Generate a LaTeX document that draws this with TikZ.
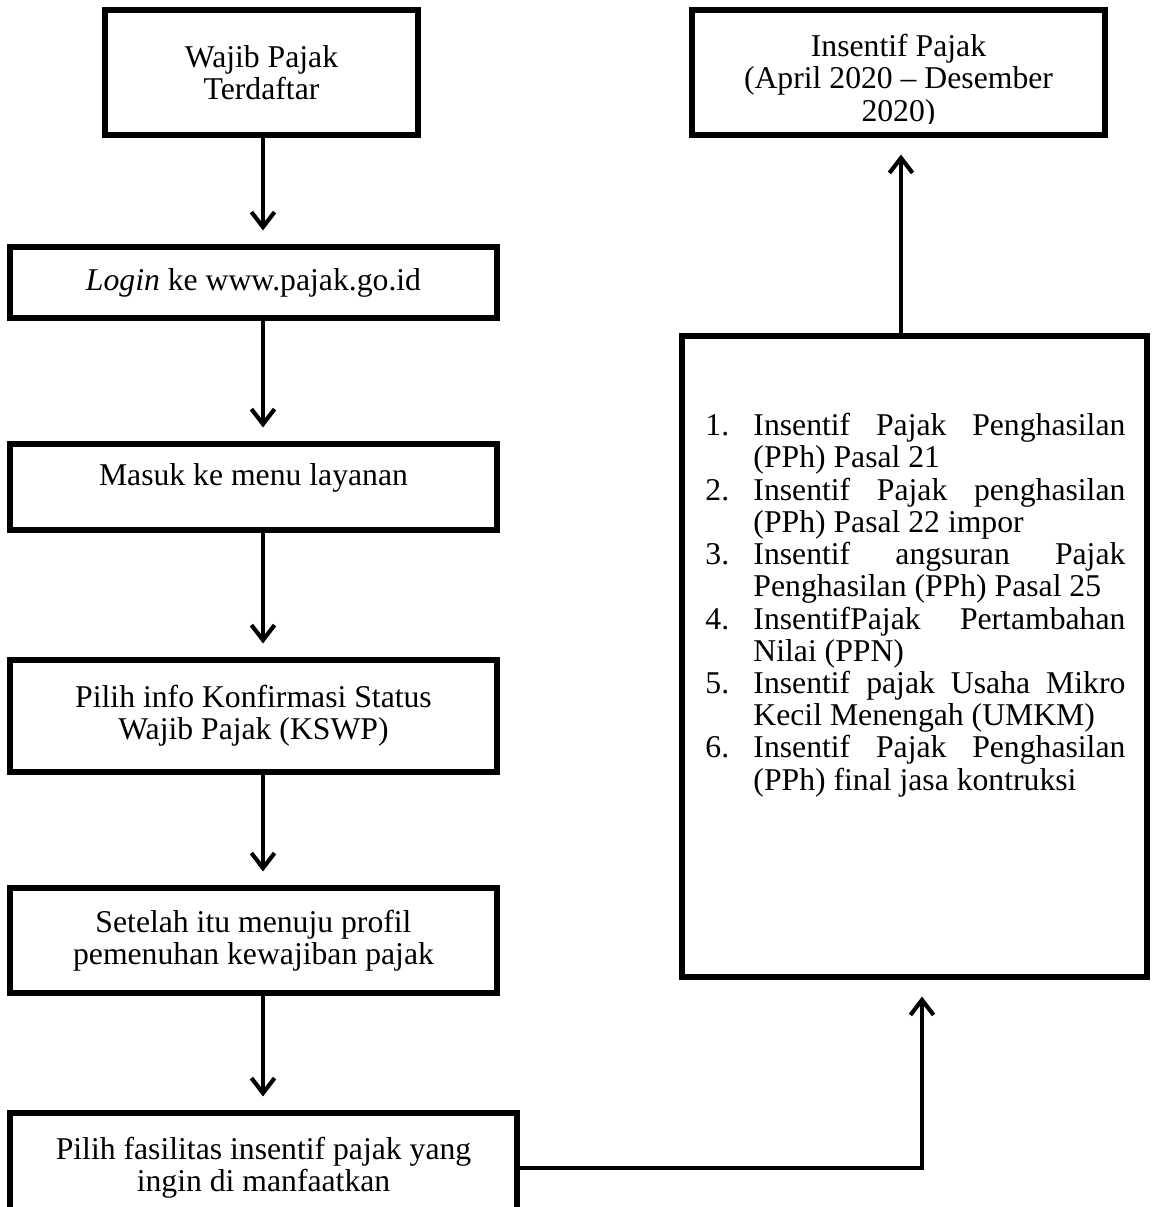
\documentclass[tikz,border=0pt]{standalone}
\usepackage{fontspec}
\setmainfont{Liberation Serif}
\usetikzlibrary{arrows.meta,calc,positioning}
\newlength{\px}
\setlength{\px}{0.4332pt}
\tikzset{
  kotak/.style={draw, line width=2.2pt, inner sep=0pt, align=center,
    font=\fontsize{13.73}{13.95}\selectfont},
  tulisan/.style={inner sep=0pt, font=\fontsize{13.73}{13.95}\selectfont},
  panah/.style={line width=1.8pt, -{Straight Barb[length=6.5pt,width=10pt]}}
}
\begin{document}
\begin{tikzpicture}[x=\px, y=-\px]
  \clip (0,0) rectangle (1152,1207);
  \fill[white] (0,0) rectangle (1152,1207);

  % Alur kiri
  \node[kotak, minimum width=313\px, minimum height=125\px] (terdaftar) at (261.5,72.5) {Wajib Pajak\\Terdaftar};
  \node[kotak, minimum width=487\px, minimum height=71\px] (login) at (253.5,282.5) {\textit{Login} ke www.pajak.go.id};
  \node[kotak, minimum width=487\px, minimum height=86\px, text depth=25\px] (layanan) at (253.5,487) {Masuk ke menu layanan};
  \node[kotak, minimum width=487\px, minimum height=112\px] (kswp) at (253.5,716) {Pilih info Konfirmasi Status\\Wajib Pajak (KSWP)};
  \node[kotak, minimum width=487\px, minimum height=105\px] (profil) at (253.5,940.5) {Setelah itu menuju profil\\pemenuhan kewajiban pajak};
  \node[kotak, minimum width=507\px, minimum height=110\px] (fasilitas) at (263.5,1168) {Pilih fasilitas insentif pajak yang\\ingin di manfaatkan};

  % Panah ke bawah
  \coordinate (sumbu) at (263,0);
  \foreach \a/\b in {terdaftar/login, login/layanan, layanan/kswp, kswp/profil, profil/fasilitas} {
    \draw[panah] (\a.south -| sumbu) -- ($(\b.north -| sumbu)+(0,-14)$);
  }

  % Kolom kanan
  \node[kotak, minimum width=413\px, minimum height=125\px] (insentif) at (898.5,72.5) {};
  \begin{scope}
    \clip (692,10) rectangle (1105,123);
    \node[tulisan, align=center, anchor=north] (periode) at (898.5,34) {Insentif Pajak\\(April 2020 – Desember\\2020)};
  \end{scope}

  \node[kotak, minimum width=465\px, minimum height=641\px] (jenis) at (914.5,656.5) {};
  \node[tulisan, align=left, anchor=north west] (daftar) at (705,413) {%
    \makebox[48\px][l]{1.}\makebox[372\px][s]{Insentif Pajak Penghasilan}\\
    \hspace*{48\px}(PPh) Pasal 21\\
    \makebox[48\px][l]{2.}\makebox[372\px][s]{Insentif Pajak penghasilan}\\
    \hspace*{48\px}(PPh) Pasal 22 impor\\
    \makebox[48\px][l]{3.}\makebox[372\px][s]{Insentif angsuran Pajak}\\
    \hspace*{48\px}Penghasilan (PPh) Pasal 25\\
    \makebox[48\px][l]{4.}\makebox[372\px][s]{InsentifPajak Pertambahan}\\
    \hspace*{48\px}Nilai (PPN)\\
    \makebox[48\px][l]{5.}\makebox[372\px][s]{Insentif pajak Usaha Mikro}\\
    \hspace*{48\px}Kecil Menengah (UMKM)\\
    \makebox[48\px][l]{6.}\makebox[372\px][s]{Insentif Pajak Penghasilan}\\
    \hspace*{48\px}(PPh) final jasa kontruksi};

  % Panah ke atas
  \coordinate (poros) at (901,0);
  \draw[panah] (jenis.north -| poros) -- ($(insentif.south -| poros)+(0,17)$);
  \coordinate (belok) at (922,1168);
  \draw[panah] (fasilitas.east) -- (belok) -- ($(jenis.south -| belok)+(0,17)$);
\end{tikzpicture}
\end{document}
